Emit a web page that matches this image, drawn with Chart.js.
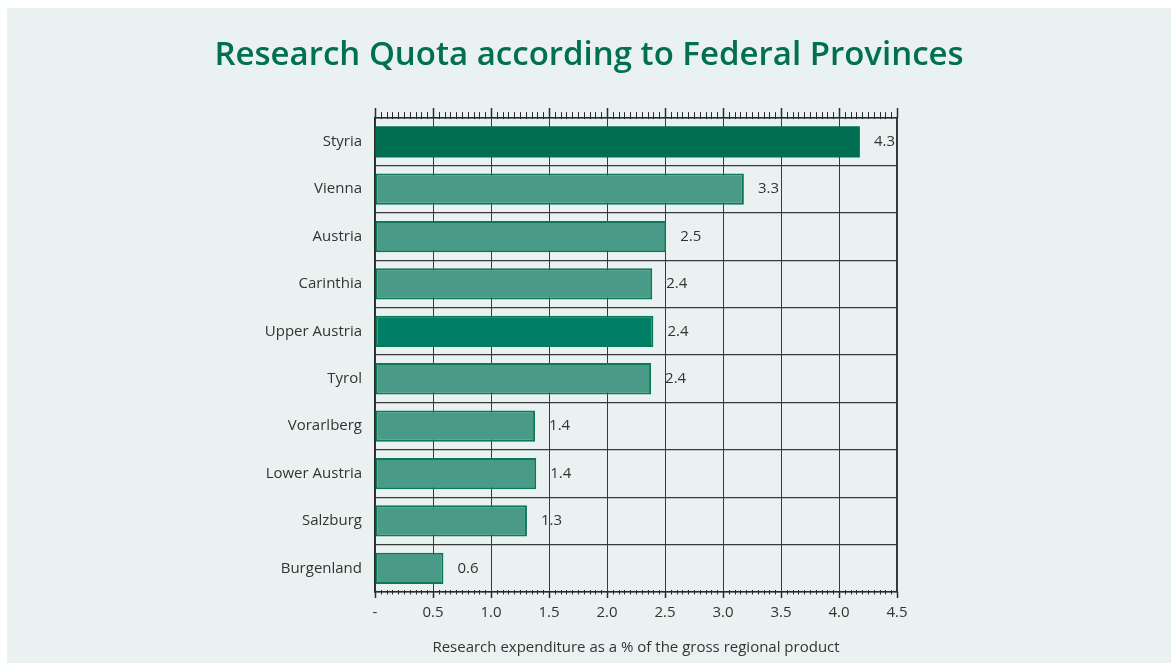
<!DOCTYPE html>
<html>
<head>
<meta charset="utf-8">
<script src="https://cdn.jsdelivr.net/npm/chart.js@4/dist/chart.umd.min.js"></script>
<style>
    body { margin: 0; background: #ffffff; }
    #panel { position: absolute; left: 7px; top: 8px; width: 1164px; height: 655px; background: #eaf2f1; }
    canvas { display: block; }
</style>
</head>
<body>
<div id="panel"><canvas id="quotaChart" width="1164" height="655"></canvas></div>
<script>
// Provinces, top to bottom
const Provinces = ['Styria', 'Vienna', 'Austria', 'Carinthia', 'Upper Austria', 'Tyrol', 'Vorarlberg', 'Lower Austria', 'Salzburg', 'Burgenland'];
// bar lengths as drawn in the picture
const Quota_Values = [4.18, 3.18, 2.51, 2.39, 2.40, 2.38, 1.38, 1.39, 1.31, 0.59];
// printed value labels
const Quota_Labels = ['4.3', '3.3', '2.5', '2.4', '2.4', '2.4', '1.4', '1.4', '1.3', '0.6'];
const X_Min = 0;
const X_Max = 4.5;
const X_Step = 0.5;

const Font_Family = "'Open Sans', 'DejaVu Sans', sans-serif";
const Text_Color = '#333333';
const Line_Color = '#3a3a3a';
const Highlight_Fill = { 'Styria': '#006e50', 'Upper Austria': '#007f66' };
const Normal_Fill = '#4a9a88';
const Bar_Border = '#0b7858';

// draws the value labels next to each bar
const Value_Label_Plugin = {
    id: 'valueLabels',
    afterDatasetsDraw(Chart_Obj) {
        const Ctx = Chart_Obj.ctx;
        const Meta = Chart_Obj.getDatasetMeta(0);
        Ctx.save();
        Ctx.font = `15px ${Font_Family}`;
        Ctx.fillStyle = Text_Color;
        Ctx.textAlign = 'left';
        Ctx.textBaseline = 'middle';
        Meta.data.forEach((Bar, i) => {
            Ctx.fillText(Quota_Labels[i], Bar.x + 14, Bar.y);
        });
        Ctx.restore();
    }
};

// minor and major tick marks on top and bottom axis
const Tick_Marks_Plugin = {
    id: 'tickMarks',
    afterDraw(Chart_Obj) {
        const Ctx = Chart_Obj.ctx;
        const Scale = Chart_Obj.scales.x;
        const Area = Chart_Obj.chartArea;
        const Count = Math.round((X_Max - X_Min) / 0.05);
        Ctx.save();
        Ctx.strokeStyle = '#2a2a2a';
        for (let i = 0; i <= Count; i++) {
            const X = Math.round(Scale.getPixelForValue(X_Min + i * 0.05)) + 0.5;
            const Is_Major = i % 10 === 0;
            Ctx.lineWidth = Is_Major ? 1.5 : 1;
            Ctx.beginPath();
            if (Is_Major) {
                Ctx.moveTo(X, Area.top - 10); Ctx.lineTo(X, Area.top);
                Ctx.moveTo(X, Area.bottom); Ctx.lineTo(X, Area.bottom + 6);
            } else {
                Ctx.moveTo(X, Area.top - 6); Ctx.lineTo(X, Area.top + 1);
                Ctx.moveTo(X, Area.bottom - 2); Ctx.lineTo(X, Area.bottom + 2.5);
            }
            Ctx.stroke();
        }
        Ctx.restore();
    }
};

document.addEventListener('DOMContentLoaded', () => {
    const Ctx = document.getElementById('quotaChart').getContext('2d');

    new Chart(Ctx, {
        type: 'bar',
        data: {
            labels: Provinces,
            datasets: [{
                data: Quota_Values,
                backgroundColor: C => Highlight_Fill[Provinces[C.dataIndex]] || Normal_Fill,
                borderColor: C => Provinces[C.dataIndex] === 'Styria' ? Highlight_Fill['Styria'] : Bar_Border,
                borderWidth: C => Provinces[C.dataIndex] === 'Styria' ? 0 : 2,
                borderSkipped: false,
                categoryPercentage: 1,
                barPercentage: 0.66
            }]
        },
        plugins: [Value_Label_Plugin, Tick_Marks_Plugin],
        options: {
            indexAxis: 'y',
            responsive: false,
            animation: false,
            layout: { padding: 0 },
            plugins: {
                legend: { display: false },
                tooltip: { enabled: false },
                title: {
                    display: true,
                    text: 'Research Quota according to Federal Provinces',
                    color: '#00704e',
                    font: { family: Font_Family, size: 33, weight: '600' },
                    padding: { top: 28, bottom: 0 }
                }
            },
            scales: {
                x: {
                    type: 'linear',
                    position: 'bottom',
                    min: X_Min,
                    max: X_Max,
                    ticks: {
                        stepSize: X_Step,
                        padding: 12,
                        color: Text_Color,
                        font: { family: Font_Family, size: 15 },
                        callback: V => V === 0 ? '-' : Number(V).toFixed(1)
                    },
                    grid: {
                        color: Line_Color,
                        lineWidth: C => C.tick && C.tick.value === X_Max ? 2 : 1,
                        drawTicks: false
                    },
                    border: { display: true, color: '#2a2a2a', width: 1.5 },
                    title: {
                        display: true,
                        text: 'Research expenditure as a % of the gross regional product',
                        color: Text_Color,
                        font: { family: Font_Family, size: 15 },
                        padding: { top: 0, bottom: 6 }
                    },
                    afterFit: S => { S.height = 71; }
                },
                x2: {
                    type: 'linear',
                    position: 'top',
                    min: X_Min,
                    max: X_Max,
                    ticks: { display: false },
                    grid: { display: false },
                    border: { display: true, color: '#2a2a2a', width: 1.5 },
                    afterFit: S => { S.height = 42.5; }
                },
                y: {
                    type: 'category',
                    ticks: {
                        padding: 13,
                        color: Text_Color,
                        font: { family: Font_Family, size: 15 }
                    },
                    grid: {
                        color: Line_Color,
                        lineWidth: 1.2,
                        offset: true,
                        drawTicks: false
                    },
                    border: { display: true, color: '#2a2a2a', width: 1.5 },
                    afterFit: S => { S.width = 368; }
                },
                // empty right axis that only reserves the space right of the plot
                y2: {
                    type: 'linear',
                    position: 'right',
                    display: true,
                    ticks: { display: false },
                    grid: { display: false },
                    border: { display: false },
                    afterFit: S => { S.width = 274; }
                }
            }
        }
    });
});
</script>
</body>
</html>
